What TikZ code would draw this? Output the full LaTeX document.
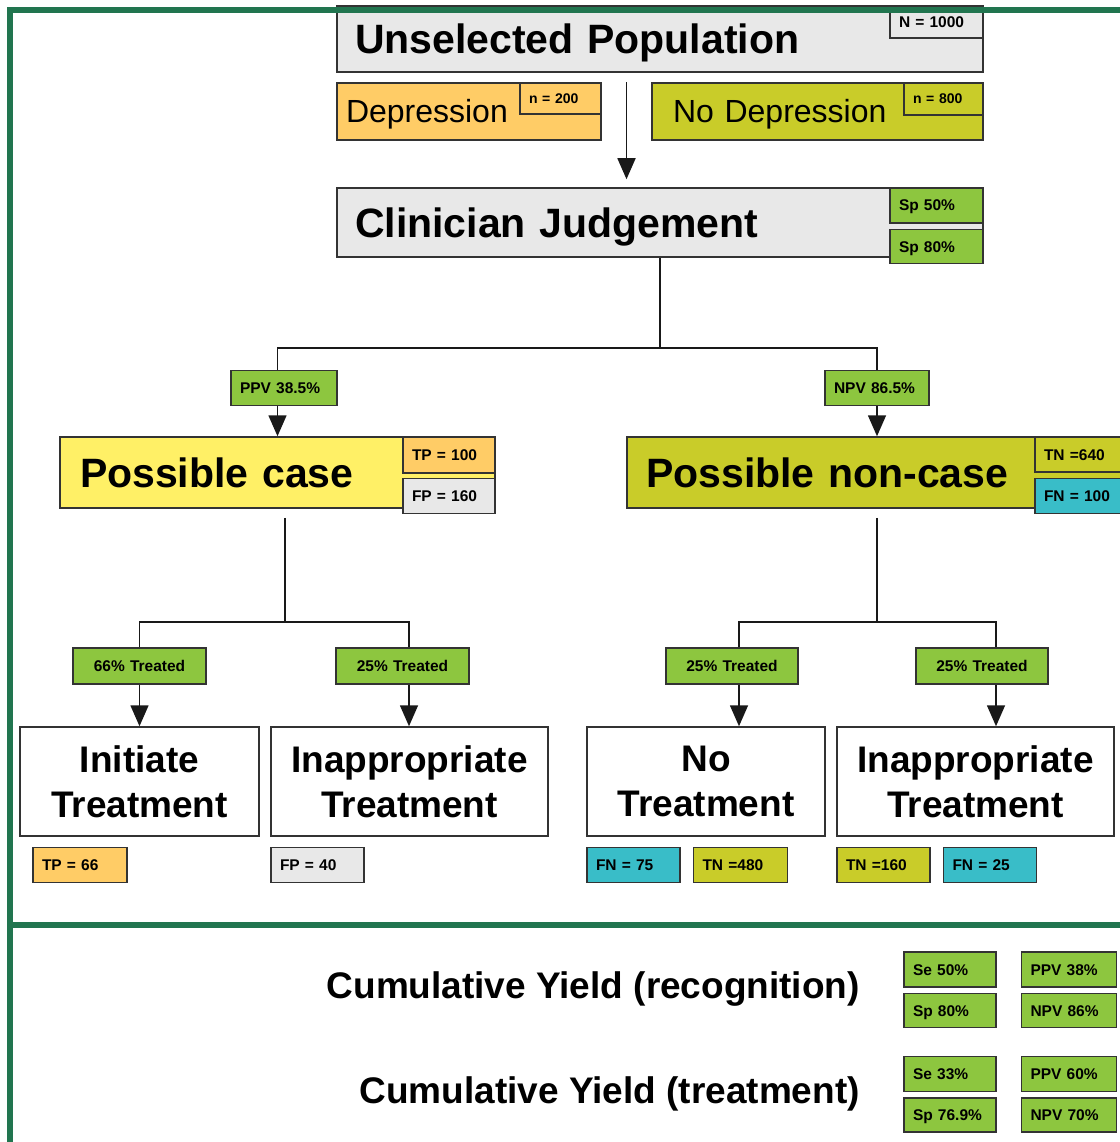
\documentclass[tikz,border=0pt]{standalone}
\usepackage{fontspec}
\setmainfont{Liberation Sans}
\usetikzlibrary{positioning,arrows.meta,calc}

\definecolor{framegreen}{RGB}{33,117,79}
\definecolor{statgreen}{RGB}{141,198,63}
\definecolor{deporange}{RGB}{255,204,102}
\definecolor{nodepolive}{RGB}{201,204,41}
\definecolor{fncyan}{RGB}{57,189,200}
\definecolor{boxgray}{RGB}{232,232,232}
\definecolor{caseyellow}{RGB}{255,240,102}

\newcommand\mainfnt{\fontsize{41}{48}\selectfont\bfseries}
\newcommand\treatfnt{\fontsize{37}{45}\selectfont\bfseries}
\newcommand\groupfnt{\fontsize{32}{38}\selectfont}
\newcommand\statfnt{\fontsize{15.5}{18}\selectfont\bfseries}
\newcommand\nfnt{\fontsize{14}{16}\selectfont\bfseries}
\newcommand\yieldfnt{\fontsize{37}{44}\selectfont\bfseries}

\begin{document}
\begin{tikzpicture}[x=1pt,y=-1pt]
\tikzstyle{mainbox}=[rectangle, draw=black!80, line width=1.5pt, inner xsep=18pt, inner ysep=0pt, align=left, font=\mainfnt, text height=29.5pt, text depth=0pt]
\tikzstyle{groupbox}=[rectangle, draw=black!80, line width=1.5pt, inner xsep=9pt, inner ysep=0pt, align=left, font=\groupfnt, text height=23pt, text depth=0pt, minimum height=57pt]
\tikzstyle{treatbox}=[rectangle, draw=black!80, fill=white, line width=1.5pt, inner sep=0pt, align=center, font=\treatfnt, minimum height=109pt]
\tikzstyle{statbox}=[rectangle, draw=black!80, line width=1.5pt, inner xsep=9pt, inner ysep=0pt, align=left, font=\statfnt, text height=11pt, text depth=0pt, minimum height=35pt, text width=75pt, fill=statgreen]
\tikzstyle{yieldlbl}=[anchor=east, inner sep=0pt, font=\yieldfnt, text height=26.5pt, text depth=0pt]
\tikzstyle{link}=[line width=1.6pt, black!90]
\tikzstyle{flow}=[-{Triangle[length=21pt,width=18pt]}, line width=1.6pt, black!90]
\tikzstyle{panel}=[line width=6pt, framegreen]
  \useasboundingbox (0,0) rectangle (1119,1142);
  % population
  \node[mainbox, fill=boxgray, text width=610pt, minimum height=66pt] (pop) at (660,39) {Unselected Population};
  \node[statbox, fill=boxgray, minimum height=32pt, anchor=north east] (ntot) at (pop.north east) {N = 1000};
  \node[groupbox, fill=deporange, text width=246pt] (dep) at (469,111.5) {Depression};
  \node[statbox, font=\nfnt, text height=10pt, fill=deporange, text width=63pt, minimum height=31pt, anchor=north east] (ndep) at (dep.north east) {n = 200};
  \node[groupbox, fill=nodepolive, inner xsep=21pt, text width=289pt] (nodep) at (817.5,111.5) {No Depression};
  \node[statbox, font=\nfnt, text height=10pt, fill=nodepolive, text width=61pt, minimum height=32pt, anchor=north east] (nnodep) at (nodep.north east) {n = 800};
  % clinician
  \node[mainbox, fill=boxgray, text width=610pt, minimum height=69pt] (cj) at (660,222.5) {Clinician Judgement};
  \node[statbox, anchor=north east] (sp1) at (cj.north east) {Sp 50\%};
  \node[statbox, minimum height=34pt, below=5pt of sp1] (sp2) {Sp 80\%};
  % possible case / non-case
  \node[mainbox, fill=caseyellow, inner xsep=20pt, text width=395pt, minimum height=71pt] (pcase) at (277.5,472.5) {Possible case};
  \node[statbox, fill=deporange, text width=74pt, minimum height=36pt, anchor=north east] (tp) at (pcase.north east) {TP = 100};
  \node[statbox, fill=boxgray, text width=74pt, below=4pt of tp] (fp) {FP = 160};
  \node[mainbox, fill=nodepolive, inner xsep=19pt, text width=462pt, minimum height=71pt] (pnc) at (877,472.5) {Possible non-case};
  \node[statbox, fill=nodepolive, text width=74pt, anchor=north east] (tn) at (pnc.north east) {TN =640};
  \node[statbox, fill=fncyan, text width=74pt, below=5pt of tn] (fn) {FN = 100};
  \node[statbox, text width=88pt, above=30pt of pcase, xshift=6.5pt] (ppv) {PPV 38.5\%};
  \node[statbox, text width=86pt, above=30pt of pnc] (npv) {NPV 86.5\%};
  % treatment
  \node[treatbox, text width=239pt] (init) at (139.5,781.5) {Initiate\\Treatment};
  \node[treatbox, text width=277pt] (inapa) at (409.5,781.5) {Inappropriate\\Treatment};
  \node[treatbox, text width=238pt] (notr) at (706,781.5) {No\\Treatment};
  \node[treatbox, text width=277pt] (inapb) at (975.5,781.5) {Inappropriate\\Treatment};
  \node[statbox, align=center, text width=115pt, minimum height=36pt] (tra) at (139.5,666) {66\% Treated};
  \node[statbox, align=center, text width=115pt, minimum height=36pt] (trb) at (402.5,666) {25\% Treated};
  \node[statbox, align=center, text width=114pt, minimum height=36pt] (trc) at (732,666) {25\% Treated};
  \node[statbox, align=center, text width=114pt, minimum height=36pt] (trd) at (982,666) {25\% Treated};
  \node[statbox, fill=deporange, text width=76pt, below right=10pt and 13pt of init.south west] (tpb) {TP = 66};
  \node[statbox, fill=boxgray, below right=10pt and 0pt of inapa.south west] (fpb) {FP = 40};
  \node[statbox, fill=fncyan, below right=10pt and 0pt of notr.south west] (fnb) {FN = 75};
  \node[statbox, fill=nodepolive, text width=76pt, right=12pt of fnb] (tnb) {TN =480};
  \node[statbox, fill=nodepolive, below right=10pt and 0pt of inapb.south west] (tnc) {TN =160};
  \node[statbox, fill=fncyan, right=12pt of tnc] (fnc) {FN = 25};
  % connectors
  \coordinate (gap) at ($(dep.north east)!0.5!(nodep.north west)$);
  \coordinate (hub) at ([yshift=-90pt]cj.south);
  \coordinate (lhub) at (285,622);
  \coordinate (ll) at (139.5,622);
  \coordinate (lr) at (409,622);
  \coordinate (rhub) at (877,622);
  \coordinate (rl) at (739,622);
  \coordinate (rr) at (996,622);
  \draw[flow, shorten >=8pt] (gap) -- (gap |- cj.north);
  \draw[link] (cj.south) -- (hub);
  \draw[link] (ppv.north -| pcase.north) |- (hub) -| (npv.north);
  \draw[flow] (ppv.south -| pcase.north) -- (pcase.north);
  \path (npv) edge[flow] (pnc);
  \draw[link, shorten <=9pt] (pcase.south -| lhub) -- (lhub);
  \draw[link] (tra.north -| ll) |- (lhub) -| (trb.north -| lr);
  \draw[link, shorten <=9pt] (pnc.south -| rhub) -- (rhub);
  \draw[link] (trc.north -| rl) |- (rhub) -| (trd.north -| rr);
  \draw[flow] (tra.south -| ll) -- (init.north -| ll);
  \draw[flow] (trb.south -| lr) -- (inapa.north -| lr);
  \draw[flow] (trc.south -| rl) -- (notr.north -| rl);
  \draw[flow] (trd.south -| rr) -- (inapb.north -| rr);
  % cumulative yield
  \node[yieldlbl] (cyrec) at (860,985) {Cumulative Yield (recognition)};
  \node[statbox, text width=74pt] (sea) at (950,969.5) {Se 50\%};
  \node[statbox, text width=74pt, minimum height=34pt, below=5pt of sea] (spa) {Sp 80\%};
  \node[statbox, text width=77pt, right=24pt of sea] (ppva) {PPV 38\%};
  \node[statbox, text width=77pt, minimum height=34pt, below=5pt of ppva] (npva) {NPV 86\%};
  \node[yieldlbl] (cytr) at (860,1090) {Cumulative Yield (treatment)};
  \node[statbox, text width=74pt] (seb) at (950,1074) {Se 33\%};
  \node[statbox, text width=74pt, minimum height=34pt, below=5pt of seb] (spb) {Sp 76.9\%};
  \node[statbox, text width=77pt, right=24pt of seb] (ppvb) {PPV 60\%};
  \node[statbox, text width=77pt, minimum height=34pt, below=5pt of ppvb] (npvb) {NPV 70\%};
  % frame
  \draw[panel] (9.5,1160) |- (1140,10);
  \draw[panel] (9.5,925) -- (1140,925);
\end{tikzpicture}
\end{document}
